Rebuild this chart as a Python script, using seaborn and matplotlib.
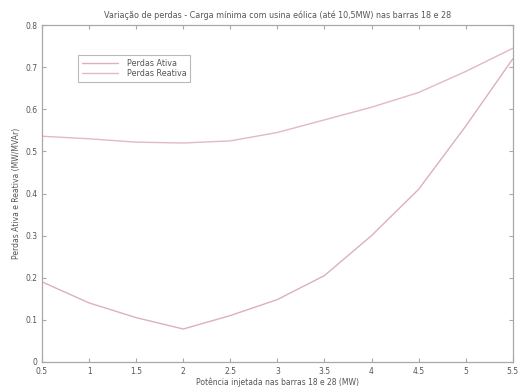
import matplotlib
matplotlib.use("Agg")
import matplotlib.pyplot as plt
import seaborn as sns
import pandas as pd

# Values
potencia = [0.5, 1.0, 1.5, 2.0, 2.5, 3.0, 3.5, 4.0, 4.5, 5.0, 5.5]
perdas_ativa = [0.19, 0.14, 0.105, 0.078, 0.11, 0.148, 0.205, 0.30, 0.41, 0.56, 0.72]
perdas_reativa = [0.536, 0.53, 0.522, 0.52, 0.525, 0.545, 0.575, 0.605, 0.64, 0.69, 0.745]

df = pd.DataFrame({
    "Potencia": potencia * 2,
    "Perdas": perdas_ativa + perdas_reativa,
    "Serie": ["Perdas Ativa"] * len(potencia) + ["Perdas Reativa"] * len(potencia),
})

sns.set_style("white")
plt.rcParams["font.family"] = ["DejaVu Sans"]
text_color = "#555555"
edge_color = "#a8a8a8"

fig = plt.figure(figsize=(5.19, 3.87), dpi=100)
ax = fig.add_axes([0.081, 0.065, 0.907, 0.87])

sns.lineplot(data=df, x="Potencia", y="Perdas", hue="Serie",
             palette={"Perdas Ativa": "#dcb0be", "Perdas Reativa": "#e2b8c8"},
             linewidth=1.0, ax=ax)

ax.set_xlim(0.5, 5.5)
ax.set_ylim(0, 0.8)
ax.set_xticks([0.5, 1, 1.5, 2, 2.5, 3, 3.5, 4, 4.5, 5, 5.5])
ax.set_xticklabels(["0.5", "1", "1.5", "2", "2.5", "3", "3.5", "4", "4.5", "5", "5.5"])
ax.set_yticks([0, 0.1, 0.2, 0.3, 0.4, 0.5, 0.6, 0.7, 0.8])
ax.set_yticklabels(["0", "0.1", "0.2", "0.3", "0.4", "0.5", "0.6", "0.7", "0.8"])
ax.tick_params(direction="in", length=3, labelsize=5.5, colors=edge_color,
               labelcolor=text_color, top=True, right=True,
               bottom=True, left=True)
for s in ax.spines.values():
    s.set_color(edge_color)
    s.set_linewidth(0.9)

ax.set_xlabel("Potência injetada nas barras 18 e 28 (MW)", fontsize=5.5,
              color=text_color, labelpad=1)
ax.set_ylabel("Perdas Ativa e Reativa (MW/MVAr)", fontsize=5.5,
              color=text_color, labelpad=3)
ax.set_title("Variação de perdas - Carga mínima com usina eólica (até 10,5MW) nas barras 18 e 28",
             fontsize=5.8, color=text_color, pad=5)

leg = ax.legend(loc="upper left", bbox_to_anchor=(0.077, 0.91), fontsize=5.8,
                frameon=True, fancybox=False, borderpad=0.4,
                handlelength=4.5, handletextpad=1.2, labelspacing=0.2,
                borderaxespad=0)
leg.get_frame().set_edgecolor(edge_color)
leg.get_frame().set_linewidth(0.8)
for t in leg.get_texts():
    t.set_color(text_color)

fig.savefig("out.png", dpi=100)
